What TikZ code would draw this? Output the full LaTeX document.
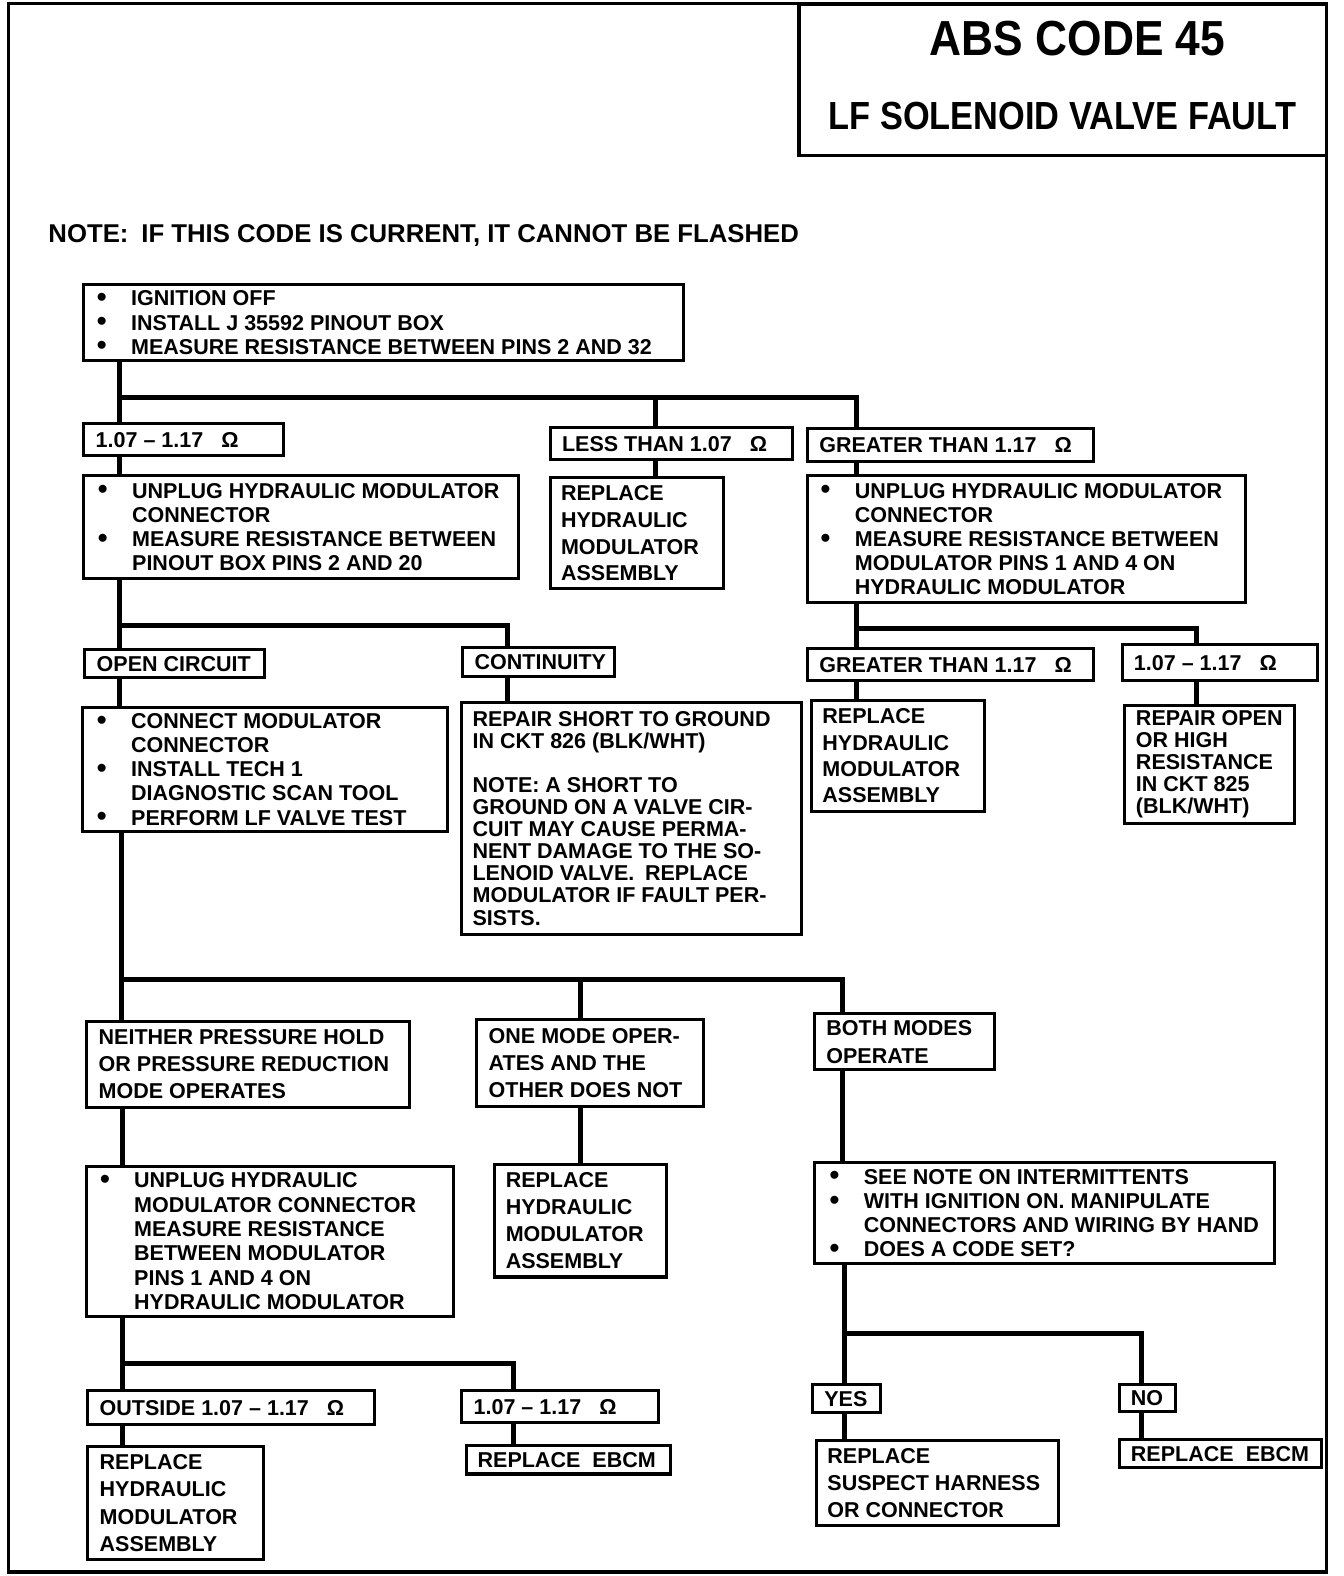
\documentclass[tikz,border=0pt]{standalone}
\usepackage{fontspec}
\usepackage{graphicx}
\setmainfont{Liberation Sans}
\newcommand\bul{\makebox[34pt][l]{\smash{\raisebox{-0.5pt}{\scalebox{1.3}{\textbullet}}}}}
\newcommand\ind{\hspace*{34pt}}
\newcommand\ohm{\hspace{18pt}Ω}
\tikzset{
 bx/.style={draw, line width=3pt, anchor=north west, inner sep=0pt},
 tx/.style={anchor=west, align=left, inner sep=0pt},
 conn/.style={line width=5pt},
}
\newcommand\mybox[8]{%
 \node[bx, minimum width={(#4)-(#2)}, minimum height={(#5)-(#3)}] (#1) at (#2,#3) {};
 \node[tx, font=\bfseries\fontsize{21.4}{#7}\selectfont] (#1-txt) at ([xshift=#6pt]#1.west) {#8};
}
\begin{document}
\begin{tikzpicture}[x=1pt,y=-1pt]
\useasboundingbox (0,0) rectangle (1337,1568);
\draw[line width=3pt] (8,3) rectangle (1320,1564);
% title
\node[draw, line width=3.5pt, anchor=north west, minimum width=525, minimum height=151, inner sep=0pt] (title) at (793,2) {};
\node[inner sep=0pt, font=\bfseries\fontsize{49}{50}\selectfont] (t1) at (1072,38) {\scalebox{0.9}[1]{ABS CODE 45}};
\node[inner sep=0pt, font=\bfseries\fontsize{39}{40}\selectfont] (t2) at (1057,115) {\scalebox{0.876}[1]{LF SOLENOID VALVE FAULT}};
\node[anchor=west, inner sep=0pt, font=\bfseries\fontsize{25.6}{28}\selectfont] (note) at (48,234) {NOTE:\enspace IF THIS CODE IS CURRENT, IT CANNOT BE FLASHED};
% boxes
\mybox{b1}{82}{282}{679}{357}{14.3}{24}{\bul IGNITION OFF\\ \bul INSTALL J 35592 PINOUT BOX\\ \bul MEASURE RESISTANCE BETWEEN PINS 2 AND 32}
\mybox{r1}{82}{420}{281}{452}{13}{24}{1.07 – 1.17\ohm}
\mybox{lt}{546}{424}{787}{456}{13}{24}{LESS THAN 1.07\ohm}
\mybox{gt}{802}{425}{1086}{458}{13}{24}{GREATER THAN 1.17\ohm}
\mybox{a}{82}{472}{514}{574}{15.3}{24}{\bul UNPLUG HYDRAULIC MODULATOR\\ \ind CONNECTOR\\ \bul MEASURE RESISTANCE BETWEEN\\ \ind PINOUT BOX PINS 2 AND 20}
\mybox{rl}{546}{474}{718}{584}{12}{26.7}{REPLACE\\ HYDRAULIC\\ MODULATOR\\ ASSEMBLY}
\mybox{b}{802}{472}{1238}{598}{14.3}{24}{\bul UNPLUG HYDRAULIC MODULATOR\\ \ind CONNECTOR\\ \bul MEASURE RESISTANCE BETWEEN\\ \ind MODULATOR PINS 1 AND 4 ON\\ \ind HYDRAULIC MODULATOR}
\mybox{oc}{83}{645}{262}{673}{13}{24}{OPEN CIRCUIT}
\mybox{co}{459}{643}{610}{672}{13}{24}{CONTINUITY}
\mybox{c}{81}{702}{444}{826}{15.3}{24}{\bul CONNECT MODULATOR\\ \ind CONNECTOR\\ \bul INSTALL TECH 1\\ \ind DIAGNOSTIC SCAN TOOL\\ \bul PERFORM LF VALVE TEST}
\mybox{d}{458}{697}{796}{928}{12}{22}{REPAIR SHORT TO GROUND\\ IN CKT 826 (BLK/WHT)\\[22pt] NOTE: A SHORT TO\\ GROUND ON A VALVE CIR-\\ CUIT MAY CAUSE PERMA-\\ NENT DAMAGE TO THE SO-\\ LENOID VALVE.\enspace REPLACE\\ MODULATOR IF FAULT PER-\\ SISTS.}
\mybox{gtb}{802}{644}{1086}{676}{13}{24}{GREATER THAN 1.17\ohm}
\mybox{r3}{1115}{640}{1309}{676}{13}{24}{1.07 – 1.17\ohm}
\mybox{rr}{806}{695}{978}{806}{12}{26.3}{REPLACE\\ HYDRAULIC\\ MODULATOR\\ ASSEMBLY}
\mybox{ro}{1117}{700}{1286}{818}{13}{22}{REPAIR OPEN\\ OR HIGH\\ RESISTANCE\\ IN CKT 825\\ (BLK/WHT)}
\mybox{e}{85}{1015}{406}{1100}{13}{27}{NEITHER PRESSURE HOLD\\ OR PRESSURE REDUCTION\\ MODE OPERATES}
\mybox{f}{473}{1013}{698}{1099}{13}{27}{ONE MODE OPER-\\ ATES AND THE\\ OTHER DOES NOT}
\mybox{g}{809}{1007}{988}{1063}{13}{28}{BOTH MODES\\ OPERATE}
\mybox{h}{85}{1159}{450}{1308}{14.3}{24.2}{\bul UNPLUG HYDRAULIC\\ \ind MODULATOR CONNECTOR\\ \ind MEASURE RESISTANCE\\ \ind BETWEEN MODULATOR\\ \ind PINS 1 AND 4 ON\\ \ind HYDRAULIC MODULATOR}
\mybox{i}{490}{1157}{662}{1269}{13}{27}{REPLACE\\ HYDRAULIC\\ MODULATOR\\ ASSEMBLY}
\mybox{j}{809}{1155}{1267}{1256}{16.3}{24}{\bul SEE NOTE ON INTERMITTENTS\\ \bul WITH IGNITION ON. MANIPULATE\\ \ind CONNECTORS AND WIRING BY HAND\\ \bul DOES A CODE SET?}
\mybox{ou}{86}{1382}{371}{1416}{13}{24}{OUTSIDE 1.07 – 1.17\ohm}
\mybox{r4}{458}{1382}{654}{1414}{13}{24}{1.07 – 1.17\ohm}
\mybox{k}{86}{1438}{261}{1550}{13}{27}{REPLACE\\ HYDRAULIC\\ MODULATOR\\ ASSEMBLY}
\mybox{eba}{463}{1437}{666}{1465}{12}{24}{REPLACE\hspace{12pt}EBCM}
\mybox{yes}{807}{1376}{875}{1404}{13}{24}{YES}
\mybox{no}{1112}{1376}{1168}{1403}{13}{24}{NO}
\mybox{sh}{811}{1432}{1052}{1516}{12}{27}{REPLACE\\ SUSPECT HARNESS\\ OR CONNECTOR}
\mybox{ebb}{1112}{1431}{1313}{1459}{13}{24}{REPLACE\hspace{12pt}EBCM}
% connectors
\coordinate (p1) at (119,395); \coordinate (p1m) at (652,395); \coordinate (p1r) at (852,395);
\draw[conn] (b1.south -| p1) -- (p1) -- (p1r) -- (gt.north -| p1r);
\draw[conn] (p1) -- (r1.north -| p1);
\draw[conn] (p1m) -- (lt.north -| p1m);
\draw[conn] (r1.south -| p1) -- (a.north -| p1);
\draw[conn] (lt.south -| p1m) -- (rl.north -| p1m);
\draw[conn] (gt.south -| p1r) -- (b.north -| p1r);
\coordinate (p2) at (119,622); \coordinate (p2r) at (505,622);
\draw[conn] (a.south -| p2) -- (p2) -- (p2r) -- (co.north -| p2r);
\draw[conn] (p2) -- (oc.north -| p2);
\draw[conn] (oc.south -| p2) -- (c.north -| p2);
\draw[conn] (co.south -| p2r) -- (d.north -| p2r);
\coordinate (p3) at (852,625); \coordinate (p3r) at (1190,625);
\draw[conn] (b.south -| p3) -- (p3) -- (p3r) -- (r3.north -| p3r);
\draw[conn] (p3) -- (gtb.north -| p3);
\draw[conn] (gtb.south -| p3) -- (rr.north -| p3);
\draw[conn] (r3.south -| p3r) -- (ro.north -| p3r);
\coordinate (p4) at (121,975); \coordinate (p4m) at (578,975); \coordinate (p4r) at (838,975);
\draw[conn] (c.south -| p4) -- (p4) -- (p4r) -- (g.north -| p4r);
\draw[conn] (p4) -- (e.north -| p4);
\draw[conn] (p4m) -- (f.north -| p4m);
\draw[conn] (f.south -| p4m) -- (i.north -| p4m);
\draw[conn] (g.south -| p4r) -- (j.north -| p4r);
\coordinate (p5) at (122,1357); \coordinate (p5r) at (511,1357);
\draw[conn] (e.south -| p5) -- (h.north -| p5);
\draw[conn] (h.south -| p5) -- (p5) -- (p5r) -- (r4.north -| p5r);
\draw[conn] (p5) -- (ou.north -| p5);
\draw[conn] (ou.south -| p5) -- (k.north -| p5);
\draw[conn] (r4.south -| p5r) -- (eba.north -| p5r);
\coordinate (p6) at (840,1327); \coordinate (p6r) at (1136,1327);
\draw[conn] (j.south -| p6) -- (p6) -- (p6r) -- (no.north -| p6r);
\draw[conn] (p6) -- (yes.north -| p6);
\draw[conn] (yes.south -| p6) -- (sh.north -| p6);
\draw[conn] (no.south -| p6r) -- (ebb.north -| p6r);
\end{tikzpicture}
\end{document}
